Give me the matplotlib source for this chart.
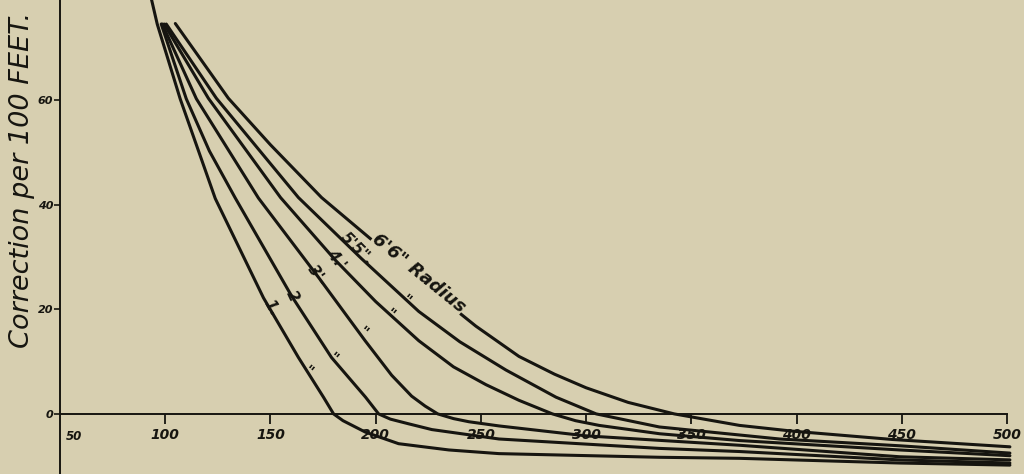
import matplotlib.pyplot as plt

# speed (x) vs correction per 100 feet (y), one curve per radius
r1_x = [92.5, 96.2, 107.1, 123.8, 146.7, 163.3, 175.2, 180.0, 184.5, 195.2, 210.9, 234.8, 258.6, 334.8, 372.9, 449.0, 501.4]
r1_y = [81.0, 74.6, 60.3, 41.2, 22.2, 10.8, 3.2, 0.0, -1.3, -3.5, -5.7, -6.9, -7.6, -8.3, -8.5, -9.4, -9.8]

r2_x = [98.1, 110.0, 121.0, 133.3, 160.0, 179.0, 195.2, 201.4, 207.0, 215.7, 226.7, 258.6, 334.8, 372.9, 449.0, 501.4]
r2_y = [74.6, 60.3, 50.3, 41.3, 22.6, 10.8, 3.2, 0.0, -1.0, -1.9, -3.0, -4.8, -6.6, -7.2, -8.8, -9.4]

r3_x = [98.6, 114.8, 144.3, 172.9, 195.0, 207.6, 217.1, 223.5, 229.5, 237.0, 244.3, 258.6, 300.0, 372.9, 449.0, 501.4]
r3_y = [74.6, 60.3, 41.3, 26.1, 14.0, 7.4, 3.4, 1.5, 0.0, -0.9, -1.5, -2.3, -4.2, -6.0, -8.2, -8.8]

r4_x = [99.5, 120.5, 154.8, 180.9, 200.0, 220.5, 237.0, 252.4, 268.1, 284.0, 295.0, 306.2, 335.0, 372.9, 449.0, 501.4]
r4_y = [74.6, 60.4, 41.4, 29.4, 21.5, 14.0, 9.0, 5.6, 2.6, 0.0, -1.3, -2.2, -3.8, -5.1, -6.9, -8.0]

r5_x = [100.5, 124.3, 163.3, 193.3, 220.5, 240.0, 261.9, 285.7, 304.8, 334.8, 391.9, 449.0, 501.4]
r5_y = [74.6, 60.4, 41.4, 29.7, 19.6, 13.8, 8.4, 3.2, 0.0, -2.5, -4.8, -6.1, -7.5]

r6_x = [104.8, 130.0, 150.0, 174.3, 230.0, 247.6, 268.1, 285.0, 300.0, 320.0, 341.9, 372.9, 398.1, 445.7, 501.4]
r6_y = [74.7, 60.4, 51.5, 41.4, 22.5, 16.8, 11.0, 7.6, 5.0, 2.2, 0.0, -2.2, -3.3, -4.9, -6.3]

x_ticks = [100, 150, 200, 250, 300, 350, 400, 450, 500]
y_ticks = [0, 20, 40, 60]

# curve labels: text, x, y, rotation
labels = [
    ("1.", 150.5, 20.3, -60),
    ("2", 160.5, 22.6, -65),
    ("3'-", 172.0, 26.5, -55),
    ("4.'", 181.0, 29.6, -52),
    ("5'5\".", 191.0, 31.5, -45),
]
dittos = [(168.1, 8.3), (180.0, 10.8), (194.3, 15.7), (207.1, 19.2), (214.3, 21.9)]

bg = "#d7cfb0"
ink = "#161510"

fig = plt.figure(figsize=(10.24, 4.74), dpi=100, facecolor=bg)
ax = fig.add_axes([60 / 1024, 0, 964 / 1024, 1])
ax.set_facecolor(bg)

for xs, ys in [(r1_x, r1_y), (r2_x, r2_y), (r3_x, r3_y), (r4_x, r4_y), (r5_x, r5_y), (r6_x, r6_y)]:
    ax.plot(xs, ys, color=ink, lw=2.2, solid_joinstyle="round", solid_capstyle="round", zorder=3)

ax.set_xlim(50, 508.1)
ax.set_ylim(-11.5, 79.2)

for s in ["top", "right"]:
    ax.spines[s].set_visible(False)
ax.spines["bottom"].set_position(("data", 0))
ax.spines["bottom"].set_bounds(50, 500)
ax.spines["bottom"].set_linewidth(1.4)
ax.spines["left"].set_linewidth(1.4)
ax.spines["bottom"].set_color(ink)
ax.spines["left"].set_color(ink)

ax.set_xticks(x_ticks)
ax.set_xticklabels([str(t) for t in x_ticks], fontsize=10, fontstyle="italic", fontweight="bold", color=ink)
ax.tick_params(axis="x", direction="out", length=7, width=1.3, pad=3, colors=ink)
ax.set_yticks(y_ticks)
ax.set_yticklabels([str(t) for t in y_ticks], fontsize=8, fontstyle="italic", fontweight="bold", color=ink)
ax.tick_params(axis="y", direction="out", length=4, width=1.2, pad=1, colors=ink)
ax.text(56.5, -4.4, "50", fontsize=8.5, fontstyle="italic", fontweight="bold", color=ink,
        ha="center", va="center")

for txt, x, y, rot in labels:
    ax.text(x, y, txt, fontsize=11, fontstyle="italic", fontweight="bold", color=ink,
            rotation=rot, ha="center", va="center", rotation_mode="anchor", zorder=4)
for x, y in dittos:
    ax.text(x, y, "\"", fontsize=10, fontweight="bold", color=ink, rotation=-40,
            ha="center", va="center", rotation_mode="anchor", zorder=4)

ax.text(220.5, 27.0, "6'6\" Radius", fontsize=13, fontstyle="italic", fontweight="bold", color=ink,
        rotation=-39, ha="center", va="center", rotation_mode="anchor", zorder=5,
        bbox=dict(facecolor=bg, edgecolor="none", pad=0.3))

fig.text(22 / 1024, 1 - 180 / 474, "Correction per 100 FEET.", rotation=90, fontsize=19.5,
         fontstyle="italic", color=ink, ha="center", va="center")

fig.savefig("out.png", dpi=100, facecolor=bg)
